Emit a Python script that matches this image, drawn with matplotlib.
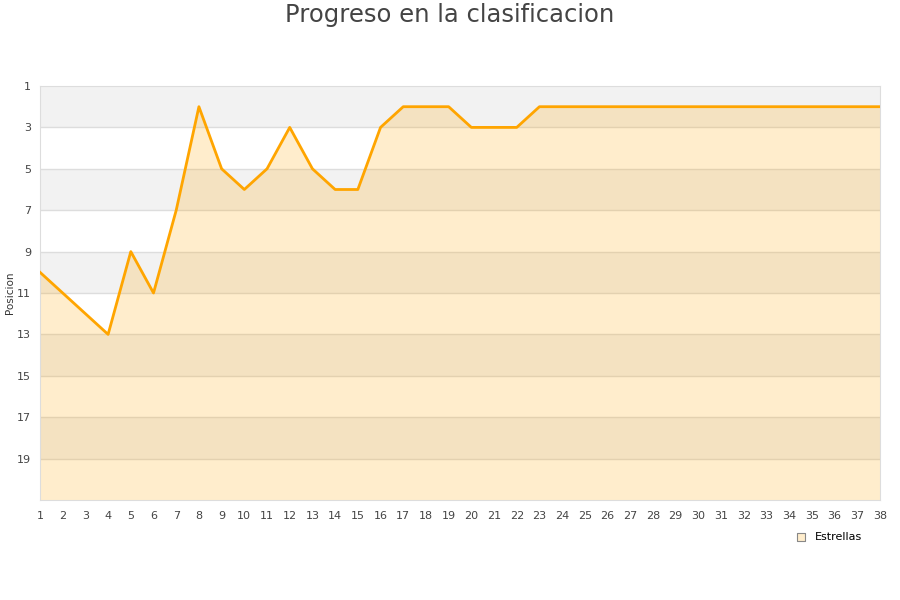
import matplotlib
matplotlib.use("Agg")
import matplotlib.pyplot as plt
import numpy as np

jornadas = list(range(1, 39))
posicion = [10, 11, 12, 13, 9, 11, 7, 2, 5, 6, 5, 3, 5, 6, 6, 3, 2, 2, 2, 3,
            3, 3, 2, 2, 2, 2, 2, 2, 2, 2, 2, 2, 2, 2, 2, 2, 2, 2]
yticks = [1, 3, 5, 7, 9, 11, 13, 15, 17, 19]

fig = plt.figure(figsize=(9, 6), dpi=100)
ax = fig.add_axes([40 / 900, 100 / 600, 840 / 900, 414 / 600])

# alternate bands every 2 positions
for i, y0 in enumerate(range(1, 21, 2)):
    if i % 2 == 0:
        ax.axhspan(y0, y0 + 2, color='#f2f2f2', zorder=0, lw=0)
for y in yticks[1:]:
    ax.axhline(y, color='#dddddd', lw=1, zorder=1)

ax.fill_between(jornadas, posicion, 21, color='#ffa500', alpha=0.2, lw=0, zorder=2)
ax.plot(jornadas, posicion, color='#ffa500', lw=2, zorder=3)

ax.set_xlim(1, 38)
ax.set_ylim(21, 1)
ax.set_xticks(jornadas)
ax.set_yticks(yticks)
ax.tick_params(axis='both', length=0, labelsize=8, colors='#444444', pad=8)
ax.tick_params(axis='y', pad=6.5)
for s in ax.spines.values():
    s.set_color('#dddddd')

fig.text(10 / 900, 1 - 293 / 600, 'Posicion', rotation=90, ha='center',
         va='center', fontsize=7.5, color='#333333')

fig.text(0.5, 1 - 15 / 600, 'Progreso en la clasificacion', ha='center',
         va='center', fontsize=17.5, color='#444444')

ax.scatter([], [], marker='s', s=40, facecolor='#ffedcc', edgecolor='#888888',
           lw=0.8, label='Estrellas')
leg = ax.legend(loc='center right', frameon=False, fontsize=8,
                handletextpad=0.3, borderpad=0)
leg.set_bbox_to_anchor((868 / 900, 1 - 537 / 600), transform=fig.transFigure)

fig.savefig('out.png', dpi=100)
